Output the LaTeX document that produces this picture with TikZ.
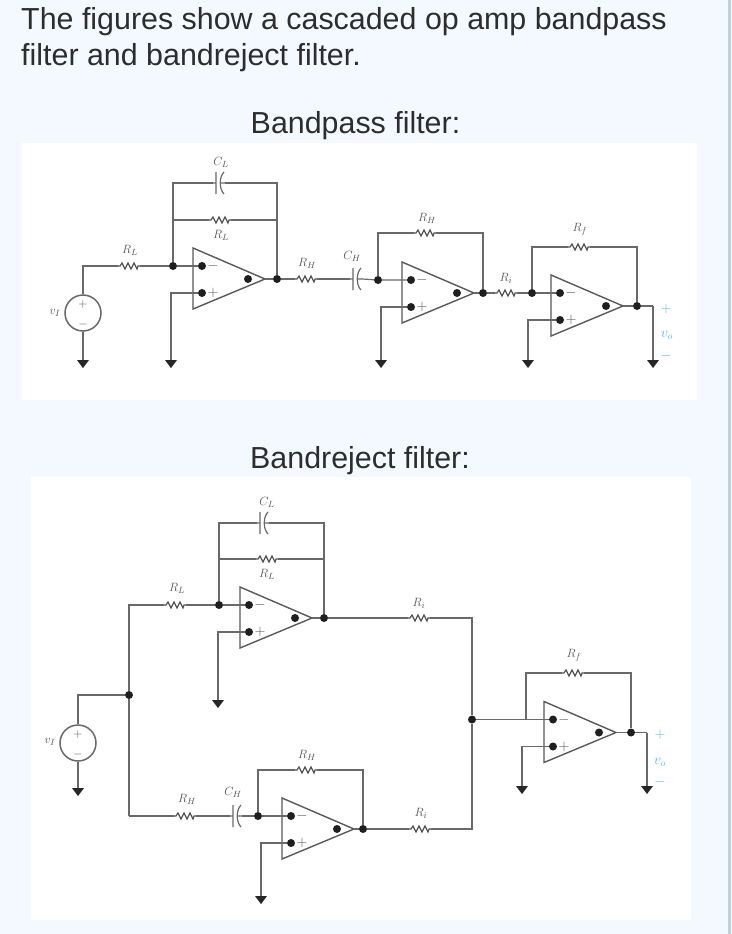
\documentclass[tikz,border=0pt]{standalone}
\usepackage{fontspec}
\setmainfont{Liberation Sans}
\usetikzlibrary{arrows.meta}
\definecolor{pagebg}{RGB}{244,249,255}
\definecolor{edgebar}{RGB}{192,208,228}
\definecolor{wirecol}{RGB}{105,105,105}
\definecolor{labelcol}{RGB}{85,85,85}
\definecolor{outcol}{RGB}{90,185,235}
\definecolor{headcol}{RGB}{45,45,45}

\begin{document}
\begin{tikzpicture}[
        x=1pt, y=-1pt,
        wire/.style={draw=wirecol, line width=1.2pt},
        gnd/.style={wire, -{Triangle[width=12pt, length=8pt, fill=black!85, line width=0pt]}},
        dotnode/.style={circle, fill=black!88, inner sep=0pt, minimum size=8pt},
        lab/.style={inner sep=0pt, text=labelcol, font=\fontsize{13}{13}\selectfont},
        outlab/.style={inner sep=0pt, text=outcol, font=\fontsize{14}{14}\selectfont},
        head/.style={inner sep=0pt, text=headcol, font=\fontsize{30.4}{37}\selectfont},
        resistor/.style={inner sep=0pt, minimum width=22pt, minimum height=9pt,
            path picture={\draw[wirecol!80!black, line width=1.2pt, shift={(path picture bounding box.center)}]
                (-11,0) -- (-9,0) -- (-7,-3) -- (-4,3) -- (-1,-3) -- (2,3) -- (5,-3) -- (8,3) -- (9,0) -- (11,0);}},
        capacitor/.style={inner sep=0pt, minimum width=12pt, minimum height=24pt,
            path picture={\draw[wirecol, line width=1.2pt, shift={(path picture bounding box.center)}]
                (-6,0) -- (-3,0) (-3,-11) -- (-3,11)
                (5,-11) .. controls (0,-6) and (0,6) .. (5,11) (1.3,0) -- (6,0);}},
        source/.style={circle, draw=wirecol, line width=1.5pt, fill=white, minimum size=36pt, inner sep=0pt},
        pics/opamp/.style={code={
            \draw[draw=black!65, line width=1.4pt, fill=white] (0,-31) -- (72,0) -- (0,30) -- cycle;
            \node[dotnode] (-m) at (9,-13) {};
            \node[dotnode] (-p) at (9,14) {};
            \node[dotnode] (-o) at (55,0) {};
            \coordinate (-tip) at (72,0);
            \node[lab, font=\fontsize{15}{15}\selectfont] (-ms) at (20,-13) {$-$};
            \node[lab, font=\fontsize{15}{15}\selectfont] (-ps) at (20,14) {$+$};
        }}
    ]
    \fill[pagebg] (0,0) rectangle (731,934);
    \fill[edgebar] (728,0) rectangle (731,934);
    \fill[white] (22,143) rectangle (697,400);
    \fill[white] (31,477) rectangle (691,920);

    % headings
    \node[head, anchor=base west] (title1) at (21,29.5) {The figures show a cascaded op amp bandpass};
    \node[head, anchor=base west] (title2) at (21,66) {filter and bandreject filter.};
    \node[head] (headbp) at (355.5,126) {Bandpass filter:};
    \node[head] (headbr) at (360,461) {Bandreject filter:};

    % bandpass filter
    \node[source] (s1) at (83,313) {};
    \node[lab] (s1plus) at (83,304) {$+$};
    \node[lab] (s1minus) at (83,324) {$-$};
    \node[lab] (s1lab) at (55,313) {$v_I$};
    \pic (a1) at (193,279) {opamp};
    \pic (a2) at (402,293) {opamp};
    \pic (a3) at (551,306) {opamp};
    \node[dotnode] (j1) at (173,266) {};
    \node[dotnode] (j2) at (277,279) {};
    \node[dotnode] (j3) at (378,280) {};
    \node[dotnode] (j4) at (483,293) {};
    \node[dotnode] (j5) at (532,293) {};
    \node[dotnode] (j6) at (637,306) {};
    \node[resistor] (r1) at (129,266) {};
    \node[resistor] (r2) at (220,220) {};
    \node[resistor] (r3) at (306,279) {};
    \node[resistor] (r4) at (425,233) {};
    \node[resistor] (r5) at (506,293) {};
    \node[resistor] (r6) at (579,247) {};
    \node[capacitor] (c1) at (219,183) {};
    \node[capacitor] (c2) at (356,279) {};
    \coordinate (g1) at (83,368);
    \coordinate (g2) at (171,368);
    \coordinate (g3) at (381,368);
    \coordinate (g4) at (528,368);
    \coordinate (g5) at (653,368);
    \coordinate (w1) at (83,266);
    \coordinate (w2) at (653,306);

    \draw[wire] (s1.north) -- (w1) -- (r1.west);
    \draw[wire] (r1.east) -- (j1) -- (a1-m);
    \draw[wire] (j1) |- (c1.west);
    \draw[wire] (c1.east) -| (j2);
    \draw[wire] (j1 |- r2) -- (r2.west);
    \draw[wire] (r2.east) -- (j2 |- r2);
    \draw[wire] (a1-tip) -- (j2) -- (r3.west);
    \draw[wire] (r3.east) -- (c2.west);
    \draw[wire] (c2.east) -- (j3) -- (a2-m);
    \draw[wire] (j3) |- (r4.west);
    \draw[wire] (r4.east) -| (j4);
    \draw[wire] (a2-tip) -- (j4) -- (r5.west);
    \draw[wire] (r5.east) -- (j5) -- (a3-m);
    \draw[wire] (j5) |- (r6.west);
    \draw[wire] (r6.east) -| (j6);
    \draw[wire] (a3-tip) -- (j6) -- (w2);
    \draw[gnd] (s1.south) -- (g1);
    \draw[gnd] (a1-p) -| (g2);
    \draw[gnd] (a2-p) -| (g3);
    \draw[gnd] (a3-p) -| (g4);
    \draw[gnd] (w2) -- (g5);

    \node[lab] (lr1) at (130,250) {$R_L$};
    \node[lab] (lc1) at (221,162) {$C_L$};
    \node[lab] (lr2) at (221,235) {$R_L$};
    \node[lab] (lr3) at (307,263) {$R_H$};
    \node[lab] (lc2) at (352,256) {$C_H$};
    \node[lab] (lr4) at (427,218) {$R_H$};
    \node[lab] (lr5) at (506,278) {$R_i$};
    \node[lab] (lr6) at (580,229) {$R_f$};
    \node[outlab] (op1) at (666,309) {$+$};
    \node[outlab] (ov1) at (667,335) {$v_o$};
    \node[outlab] (om1) at (666,356) {$-$};

    % bandreject filter
    \node[source] (s2) at (78,743) {};
    \node[lab] (s2plus) at (78,734) {$+$};
    \node[lab] (s2minus) at (78,754) {$-$};
    \node[lab] (s2lab) at (50,742) {$v_I$};
    \pic (b1) at (240,618) {opamp};
    \pic (b2) at (282,829) {opamp};
    \pic (b3) at (544,732.5) {opamp};
    \node[dotnode] (k1) at (129,695) {};
    \node[dotnode] (k2) at (219,605) {};
    \node[dotnode] (k3) at (324,618) {};
    \node[dotnode] (k4) at (258,816) {};
    \node[dotnode] (k5) at (363,829) {};
    \node[dotnode] (k6) at (472,719.5) {};
    \node[dotnode] (k7) at (631,732.5) {};
    \node[resistor] (q1) at (175,605) {};
    \node[resistor] (q2) at (267,559) {};
    \node[resistor] (q3) at (185,816) {};
    \node[resistor] (q4) at (306,770) {};
    \node[resistor] (q5) at (419,618) {};
    \node[resistor] (q6) at (420,829) {};
    \node[resistor] (q7) at (573,673) {};
    \node[capacitor] (d1) at (263,523) {};
    \node[capacitor] (d2) at (236,816) {};
    \coordinate (h1) at (78,796);
    \coordinate (h2) at (218,708);
    \coordinate (h3) at (261,904);
    \coordinate (h4) at (522,794);
    \coordinate (h5) at (647,794);
    \coordinate (t1) at (129,605);
    \coordinate (t2) at (129,816);
    \coordinate (t3) at (472,618);
    \coordinate (t4) at (472,829);
    \coordinate (t5) at (526,719.5);
    \coordinate (t6) at (647,732.5);
    \coordinate (t7) at (78,695);

    \draw[wire] (s2.north) -- (t7) -- (k1);
    \draw[wire] (t2) -- (k1) -- (t1) -- (q1.west);
    \draw[wire] (q1.east) -- (k2) -- (b1-m);
    \draw[wire] (k2) |- (d1.west);
    \draw[wire] (d1.east) -| (k3);
    \draw[wire] (k2 |- q2) -- (q2.west);
    \draw[wire] (q2.east) -- (k3 |- q2);
    \draw[wire] (b1-tip) -- (k3) -- (q5.west);
    \draw[wire] (q5.east) -- (t3) -- (k6);
    \draw[wire] (t2) -- (q3.west);
    \draw[wire] (q3.east) -- (d2.west);
    \draw[wire] (d2.east) -- (k4) -- (b2-m);
    \draw[wire] (k4) |- (q4.west);
    \draw[wire] (q4.east) -| (k5);
    \draw[wire] (b2-tip) -- (k5) -- (q6.west);
    \draw[wire] (q6.east) -- (t4) -- (k6);
    \draw[wire] (k6) -- (t5) -- (b3-m);
    \draw[wire] (t5) |- (q7.west);
    \draw[wire] (q7.east) -| (k7);
    \draw[wire] (b3-tip) -- (k7) -- (t6);
    \draw[gnd] (s2.south) -- (h1);
    \draw[gnd] (b1-p) -| (h2);
    \draw[gnd] (b2-p) -| (h3);
    \draw[gnd] (b3-p) -| (h4);
    \draw[gnd] (t6) -- (h5);

    \node[lab] (mr1) at (177,588) {$R_L$};
    \node[lab] (mc1) at (267,502) {$C_L$};
    \node[lab] (mr2) at (267,574) {$R_L$};
    \node[lab] (mr3) at (187,799) {$R_H$};
    \node[lab] (mc2) at (233,792) {$C_H$};
    \node[lab] (mr4) at (307,755) {$R_H$};
    \node[lab] (mr5) at (419,603) {$R_i$};
    \node[lab] (mr6) at (421,813) {$R_i$};
    \node[lab] (mr7) at (574,655) {$R_f$};
    \node[outlab] (op2) at (660,735) {$+$};
    \node[outlab] (ov2) at (660,762) {$v_o$};
    \node[outlab] (om2) at (660,782) {$-$};
\end{tikzpicture}
\end{document}
